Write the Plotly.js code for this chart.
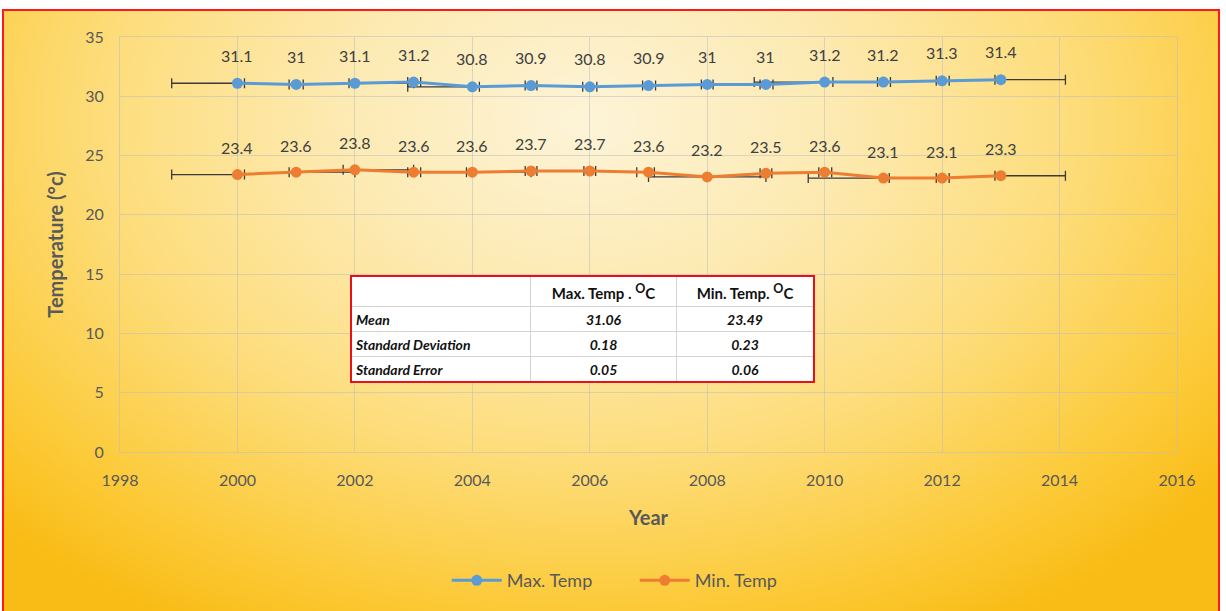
<!DOCTYPE html>
<html>
<head>
<meta charset="utf-8">
<script src="https://cdn.plot.ly/plotly-3.0.1.min.js"></script>
<style>
  html, body { margin: 0; padding: 0; }
  body { width: 1226px; height: 611px; overflow: hidden; position: relative;
         background: #ffffff; }
  #frame { position: absolute; left: 2px; top: 9px; width: 1218px; height: 610px;
           border: 2px solid #ff1a1a; box-sizing: border-box;
           background: radial-gradient(ellipse 68% 95% at 48% 18%, #fdf4d8 0%, #fdeab2 30%, #fddc78 60%, #fcca38 85%, #f9bc16 100%); }
  #chart { position: absolute; left: 0; top: 0; width: 1226px; height: 611px; }
  #stats { position: absolute; left: 350px; top: 275px; border-collapse: collapse;
           border: 2px solid #e8101a; background: #ffffff; font-family: Lato, "Open Sans", sans-serif;
           color: #111; }
  #stats td { border: 1px solid #d4d4d4; padding: 0 4px; height: 24px; font-size: 14px; }
  #stats tr.hdr td { height: 29px; font-weight: bold; font-size: 15px; text-align: center; }
  #stats td.lbl { font-weight: bold; font-style: italic; text-align: left; width: 170px; }
  #stats td.val { font-weight: bold; font-style: italic; text-align: center; }
  #stats td.c1 { width: 137px; }
  #stats td.c2 { width: 128px; }
</style>
</head>
<body>
<div id="frame"></div>
<div id="chart"></div>
<table id="stats"></table>
<script>
// ---- data ----
const years = [2000, 2001, 2002, 2003, 2004, 2005, 2006, 2007, 2008, 2009, 2010, 2011, 2012, 2013];
const maxTemp = [31.1, 31, 31.1, 31.2, 30.8, 30.9, 30.8, 30.9, 31, 31, 31.2, 31.2, 31.3, 31.4];
const minTemp = [23.4, 23.6, 23.8, 23.6, 23.6, 23.7, 23.7, 23.6, 23.2, 23.5, 23.6, 23.1, 23.1, 23.3];
// horizontal error bars (years)
const maxErrPlus  = [0.12, 0.12, 1.0, 0.12, 0.12, 0.1, 0.12, 0.12, 0.1, 0.12, 0.14, 0.12, 0.12, 1.1];
const maxErrMinus = [1.12, 0.12, 0.1, 0.1, 1.1, 0.1, 0.12, 0.1, 0.1, 0.1, 1.2, 0.1, 0.1, 0.1];
const minErrPlus  = [0.12, 1.0, 1.0, 0.12, 1.0, 0.1, 0.1, 0.1, 1.0, 0.1, 0.12, 0.1, 0.12, 1.1];
const minErrMinus = [1.12, 0.12, 0.2, 0.1, 0.1, 0.1, 0.1, 0.2, 1.0, 0.1, 0.1, 1.28, 0.1, 0.1];
// summary table
const statLabels = ["Mean", "Standard Deviation", "Standard Error"];
const statMax = ["31.06", "0.18", "0.05"];
const statMin = ["23.49", "0.23", "0.06"];
const statHeaders = ["Max. Temp . <sup>O</sup>C", "Min. Temp. <sup>O</sup>C"];

// ---- table ----
const tbl = document.getElementById('stats');
let html = '<tr class="hdr"><td class="lbl" style="font-style:normal"></td><td class="c1">' + statHeaders[0] +
           '</td><td class="c2">' + statHeaders[1] + '</td></tr>';
for (let i = 0; i < statLabels.length; i++) {
  html += '<tr><td class="lbl">' + statLabels[i] + '</td><td class="val c1">' + statMax[i] +
          '</td><td class="val c2">' + statMin[i] + '</td></tr>';
}
tbl.innerHTML = html;

// ---- chart ----
const errStyle = { type: 'data', symmetric: false, color: '#3a3a3a', thickness: 1.3, width: 5 };
const traces = [
  { x: years, y: maxTemp, name: 'Max. Temp', type: 'scatter', mode: 'lines+markers',
    line: { color: '#5b9bd5', width: 3 }, marker: { color: '#5b9bd5', size: 11 },
    error_x: Object.assign({ array: maxErrPlus, arrayminus: maxErrMinus }, errStyle) },
  { x: years, y: minTemp, name: 'Min. Temp', type: 'scatter', mode: 'lines+markers',
    line: { color: '#ed7d31', width: 3 }, marker: { color: '#ed7d31', size: 11 },
    error_x: Object.assign({ array: minErrPlus, arrayminus: minErrMinus }, errStyle) }
];

const annotations = [];
years.forEach((yr, i) => {
  annotations.push({ x: yr, y: maxTemp[i], text: String(maxTemp[i]), showarrow: false,
    yshift: 28, font: { family: 'Lato, "Open Sans", sans-serif', size: 16, color: '#404040' } });
  annotations.push({ x: yr, y: minTemp[i], text: String(minTemp[i]), showarrow: false,
    yshift: 27, font: { family: 'Lato, "Open Sans", sans-serif', size: 16, color: '#404040' } });
});

const gridCol = 'rgba(190,190,190,0.55)';
const layout = {
  width: 1226, height: 611,
  paper_bgcolor: 'rgba(0,0,0,0)', plot_bgcolor: 'rgba(0,0,0,0)',
  margin: { l: 120, r: 49, t: 37, b: 159 },
  font: { family: 'Lato, "Open Sans", sans-serif', color: '#595959' },
  showlegend: true,
  legend: { orientation: 'h', x: 0.487, xanchor: 'center', y: -0.31, yanchor: 'middle',
            font: { size: 18, color: '#595959' }, bgcolor: 'rgba(0,0,0,0)',
            itemwidth: 50, entrywidth: 123 },
  xaxis: { range: [1998, 2016], dtick: 2, tick0: 1998, showgrid: true, gridcolor: gridCol,
           zeroline: false, showline: true, linecolor: gridCol, mirror: true,
           ticks: 'outside', ticklen: 14, tickcolor: 'rgba(0,0,0,0)',
           tickfont: { size: 16, color: '#595959' },
           title: { text: '<b>Year</b>', font: { size: 20, color: '#595959' }, standoff: 22 } },
  yaxis: { range: [0, 35], dtick: 5, showgrid: true, gridcolor: gridCol, zeroline: false,
           showline: true, linecolor: gridCol, mirror: true,
           ticks: 'outside', ticklen: 12, tickcolor: 'rgba(0,0,0,0)',
           tickfont: { size: 16, color: '#595959' },
           title: { text: '<b>Temperature (°c)</b>', font: { size: 20, color: '#595959' }, standoff: 16 } },
  annotations: annotations
};

Plotly.newPlot('chart', traces, layout, { displayModeBar: false, staticPlot: true });
</script>
</body>
</html>
